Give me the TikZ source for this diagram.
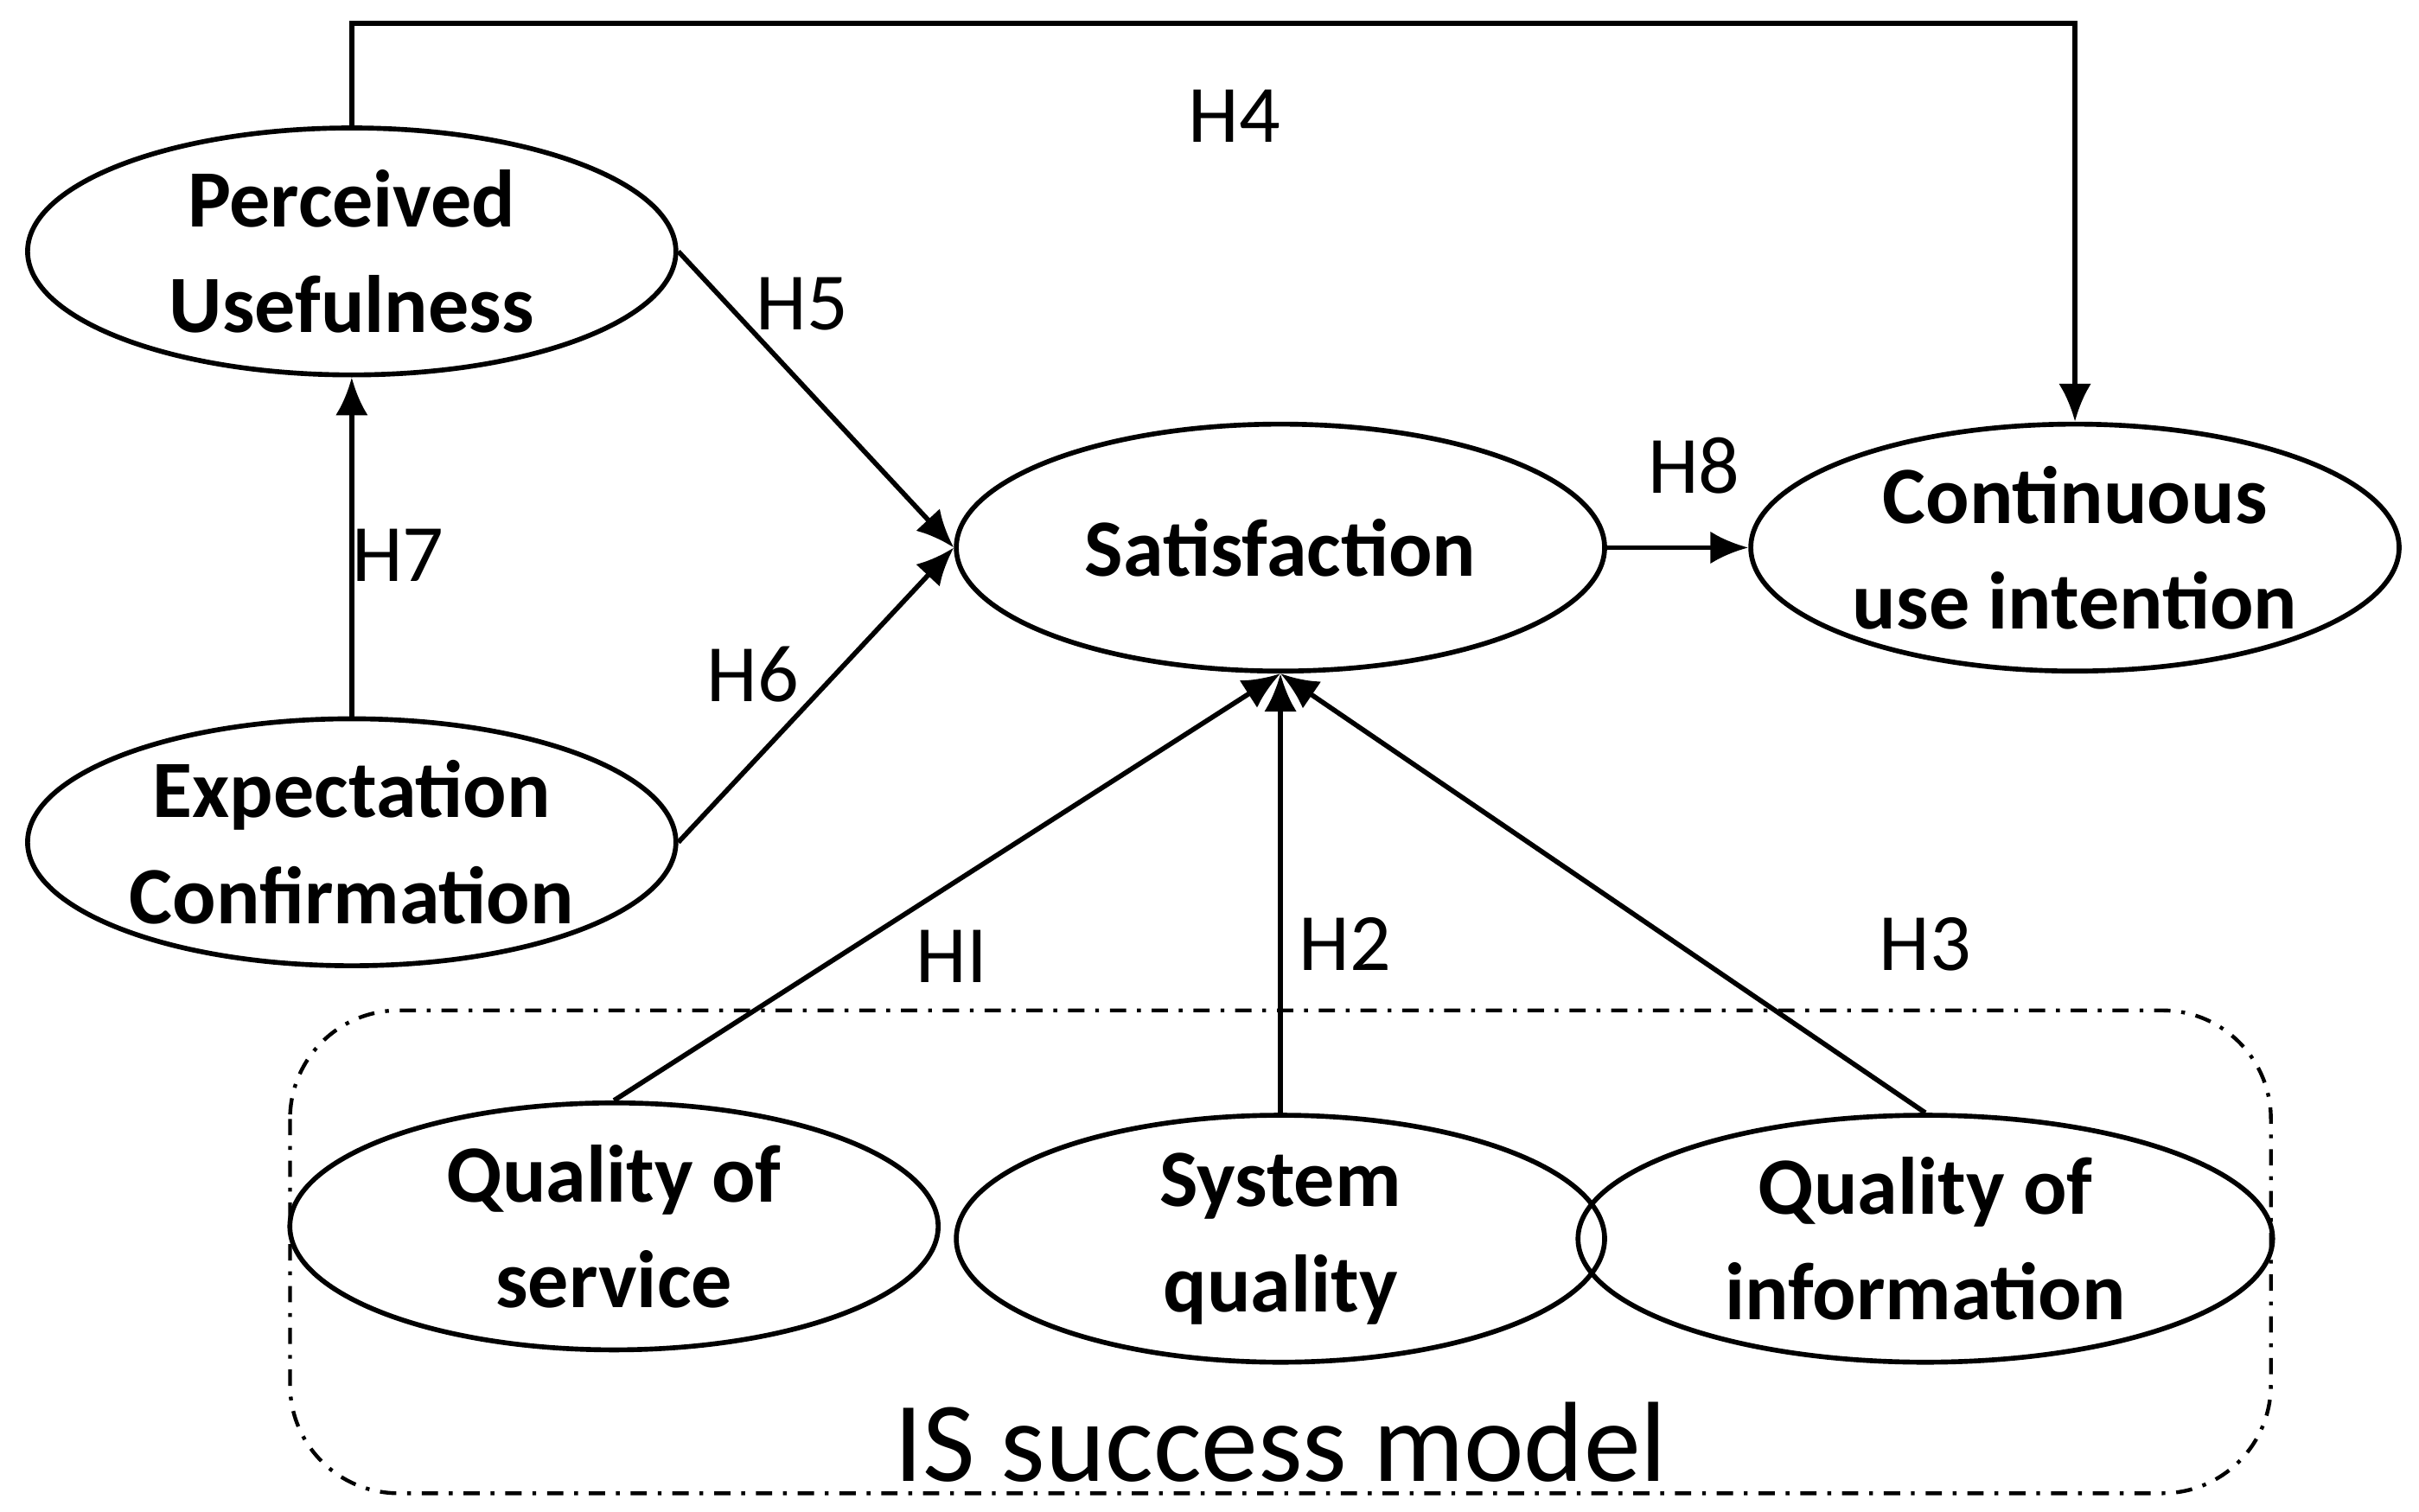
\documentclass[tikz,border=0pt]{standalone}
\usepackage{fontspec}
\setmainfont{Carlito}
\usetikzlibrary{shapes.geometric,arrows.meta}
\begin{document}
\begin{tikzpicture}[x=0.01cm,y=-0.01cm,
  ell/.style={ellipse,draw,line width=0.9pt,minimum width=4.2cm,minimum height=1.6cm,align=center,font=\fontsize{15}{19.5}\selectfont\bfseries,inner sep=0pt},
  arr/.style={draw,line width=0.9pt,-{Latex[length=7pt,width=6pt]}},
  lab/.style={font=\fontsize{15}{18}\selectfont}]
\useasboundingbox (0,0) rectangle (1568,980);
\node[ell] (pu) at (228,163) {Perceived\\Usefulness};
\node[ell] (ec) at (228,546) {Expectation\\Confirmation};
\node[ell] (sat) at (830,355) {Satisfaction};
\node[ell] (cui) at (1345,355) {Continuous\\use intention};
\node[ell] (qos) at (398,795) {Quality of\\service};
\node[ell] (sq) at (830,803) {System\\quality};
\node[ell,minimum width=4.5cm] (qoi) at (1248,803) {Quality of\\information};
\draw[line width=0.7pt,dash dot,rounded corners=20pt] (188,655) rectangle (1472,968);
\node[font=\fontsize{21}{24}\selectfont] (is) at (830,935) {IS success model};
\coordinate (a) at (228,15);
\coordinate (b) at (1345,15);
\draw[arr] (pu.north) -- (a) -- (b) -- (cui.north);
\draw[arr] (pu.east) -- (sat.west);
\draw[arr] (ec.east) -- (sat.west);
\draw[arr] (ec.north) -- (pu.south);
\draw[arr] (sat.east) -- (cui.west);
\draw[arr] (qos.north) -- (sat.south);
\draw[arr] (sq.north) -- (sat.south);
\draw[arr] (qoi.north) -- (sat.south);
\node[lab] (h4) at (800,75) {H4};
\node[lab] (h5) at (520,197) {H5};
\node[lab] (h6) at (488,437) {H6};
\node[lab] (h7) at (258,360) {H7};
\node[lab] (h8) at (1098,302) {H8};
\node[lab] (h1) at (617,620) {HI};
\node[lab] (h2) at (872,612) {H2};
\node[lab] (h3) at (1248,612) {H3};
\end{tikzpicture}
\end{document}
